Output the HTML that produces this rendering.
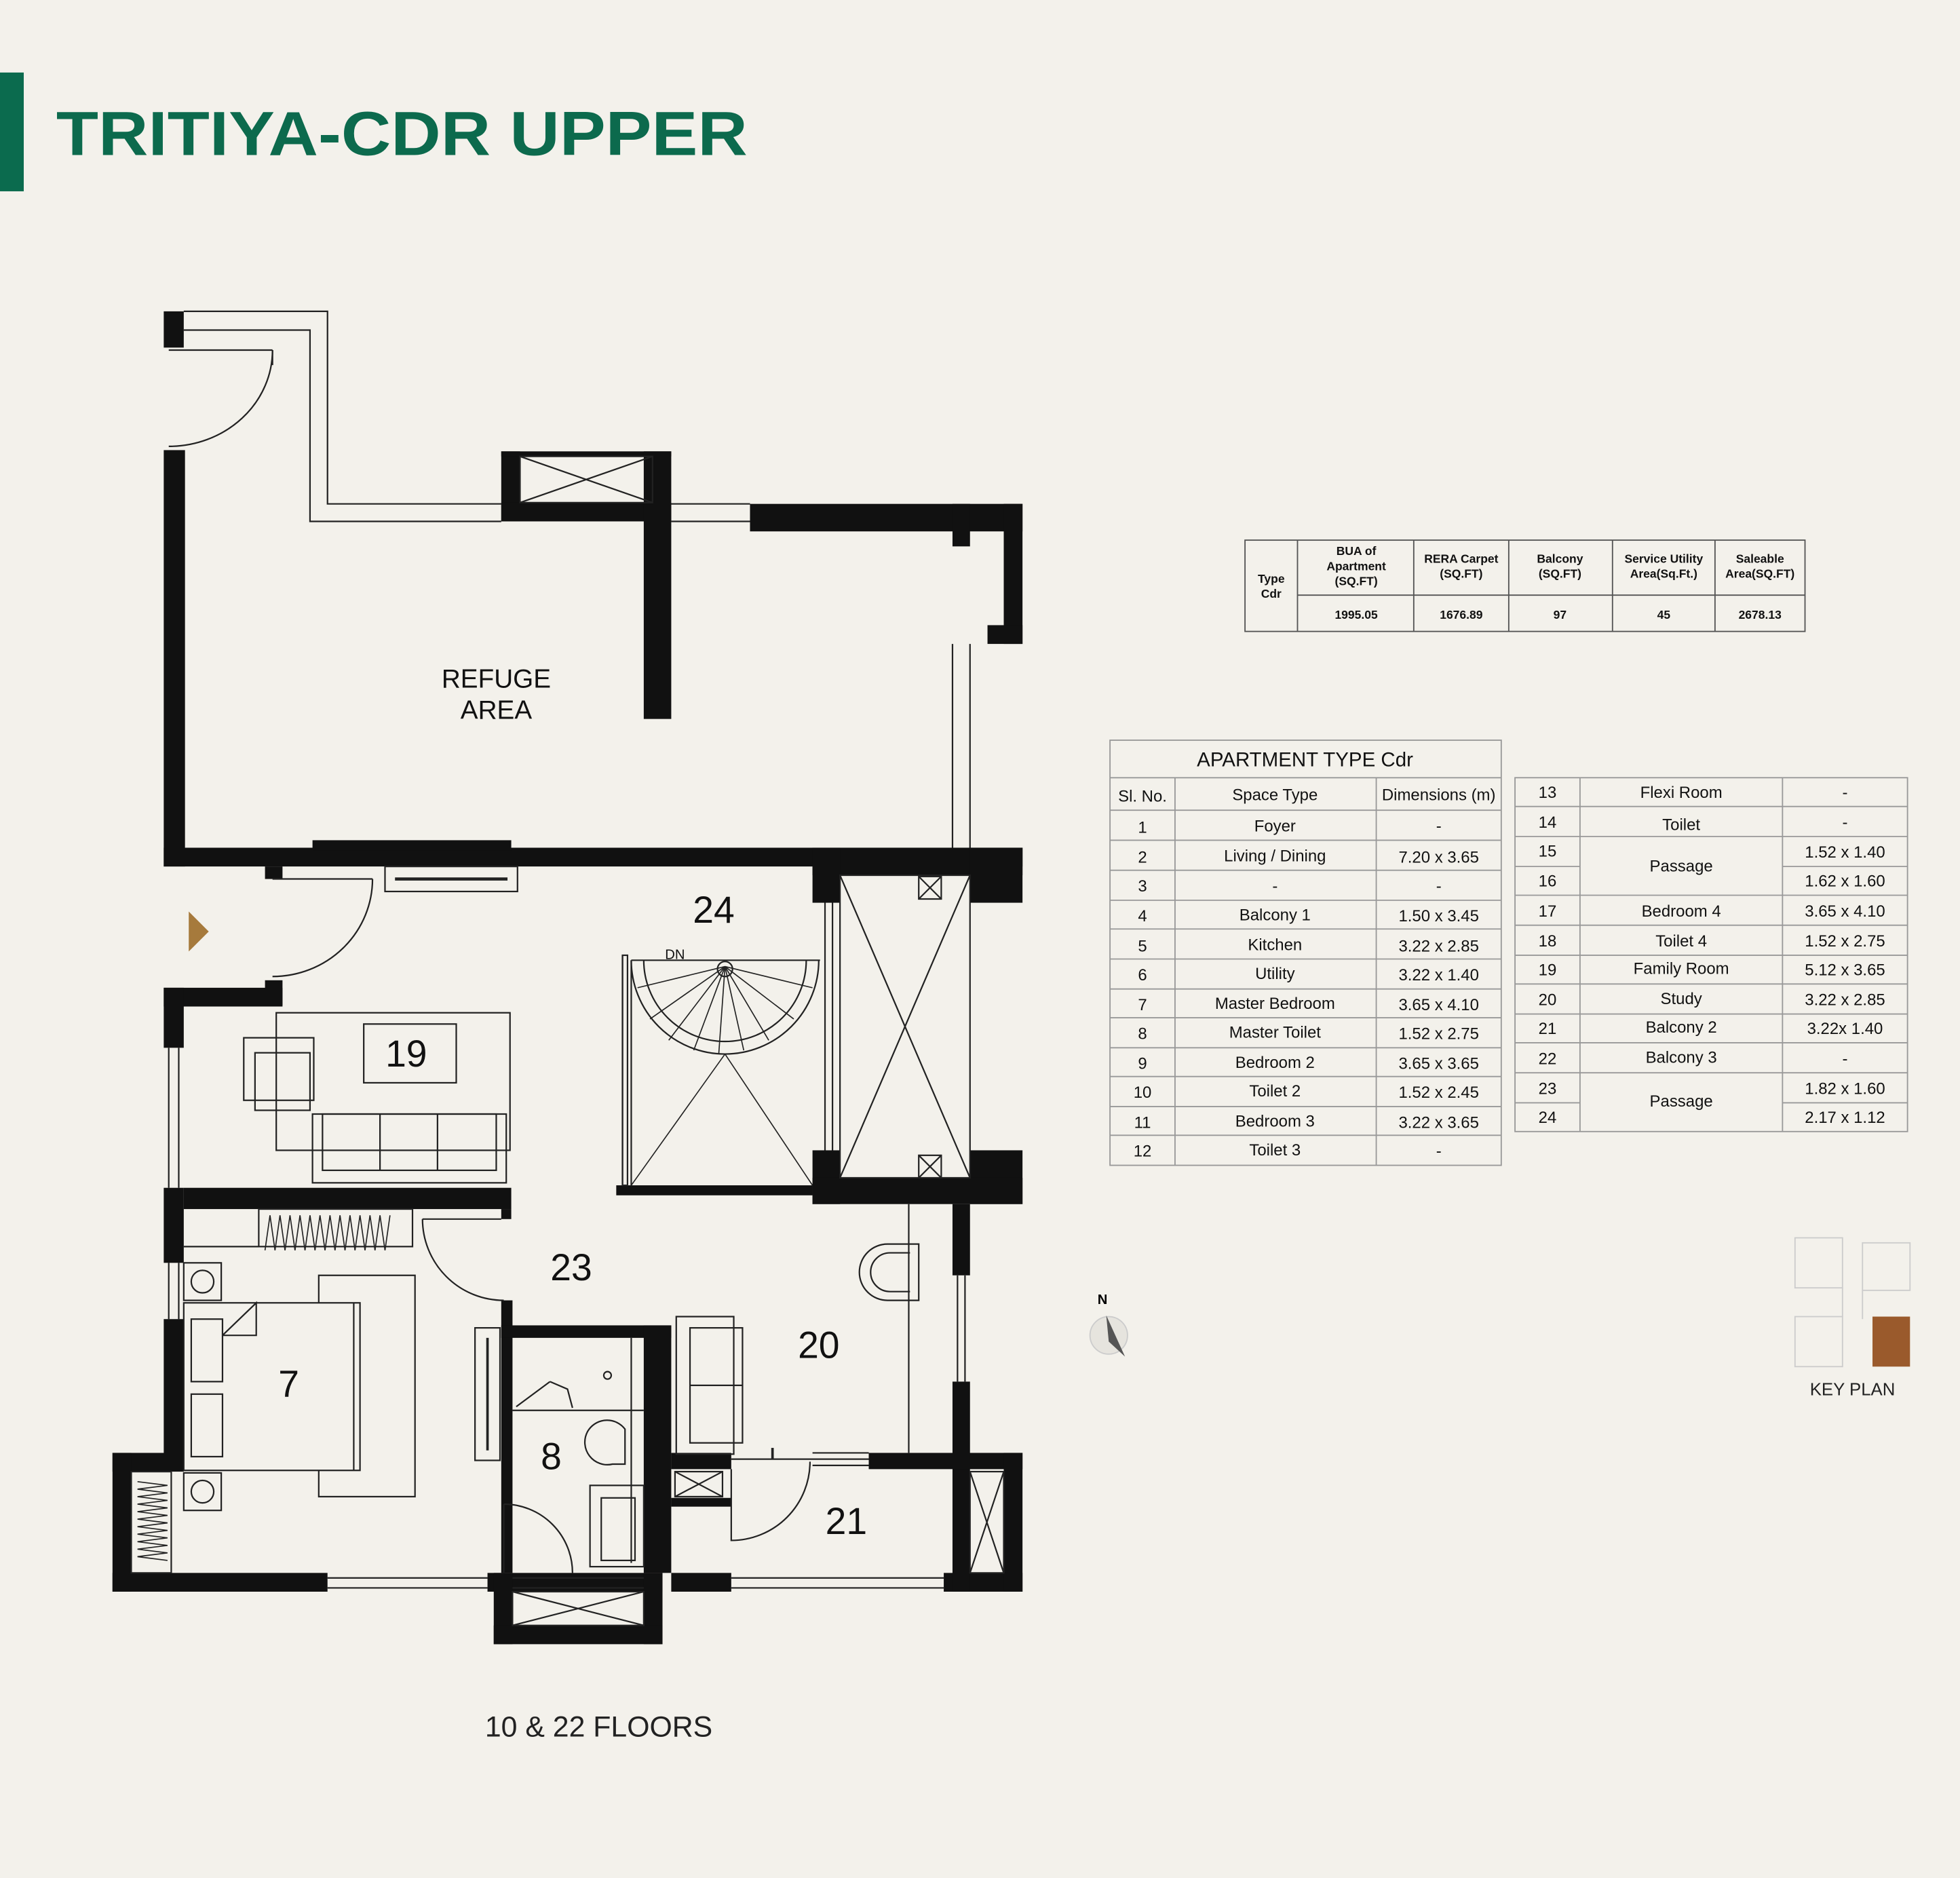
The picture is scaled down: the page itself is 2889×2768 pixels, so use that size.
<!DOCTYPE html>
<html><head><meta charset="utf-8"><style>
html,body{margin:0;padding:0;background:#f3f1eb;}
svg{display:block;}
text{font-family:"Liberation Sans",Arial,sans-serif;}
</style></head><body>
<svg width="2889" height="2768" viewBox="0 0 1568 1502" preserveAspectRatio="none" xmlns="http://www.w3.org/2000/svg">
<rect x="0" y="0" width="1568" height="1502" fill="#f3f1eb"/>
<rect x="0" y="58" width="19" height="95" fill="#0b6b4e"/>
<text x="45" y="124" font-size="50" font-weight="bold" fill="#0c6a4d" textLength="553" lengthAdjust="spacingAndGlyphs">TRITIYA-CDR UPPER</text>

<g fill="#111">
<rect x="131" y="249" width="16" height="29"/>
<rect x="131" y="360" width="17" height="333"/>
<rect x="131" y="678" width="687" height="15"/>
<rect x="250" y="672" width="159" height="8"/>
<rect x="401" y="361" width="15" height="56"/>
<rect x="401" y="361" width="136" height="4"/>
<rect x="401" y="402" width="136" height="15"/>
<rect x="515" y="361" width="22" height="214"/>
<rect x="600" y="403" width="218" height="22"/>
<rect x="762" y="403" width="14" height="34"/>
<rect x="803" y="403" width="15" height="112"/>
<rect x="790" y="500" width="28" height="15"/>
<rect x="650" y="678" width="168" height="22"/>
<rect x="650" y="678" width="22" height="44"/>
<rect x="776" y="678" width="42" height="44"/>
<rect x="650" y="920" width="22" height="43"/>
<rect x="776" y="920" width="42" height="43"/>
<rect x="650" y="942" width="168" height="21"/>
<rect x="493" y="948" width="157" height="8"/>
<rect x="212" y="693" width="14" height="10"/>
<rect x="131" y="790" width="95" height="15"/>
<rect x="212" y="784" width="14" height="20"/>
<rect x="131" y="790" width="16" height="48"/>
<rect x="131" y="950" width="16" height="60"/>
<rect x="131" y="1055" width="16" height="120"/>
<rect x="147" y="950" width="262" height="17"/>
<rect x="401" y="967" width="8" height="8"/>
<rect x="90" y="1162" width="57" height="15"/>
<rect x="90" y="1162" width="15" height="111"/>
<rect x="90" y="1258" width="172" height="15"/>
<rect x="390" y="1258" width="140" height="15"/>
<rect x="395" y="1258" width="15" height="57"/>
<rect x="515" y="1258" width="15" height="57"/>
<rect x="395" y="1300" width="135" height="15"/>
<rect x="401" y="1040" width="9" height="218"/>
<rect x="401" y="1060" width="136" height="10"/>
<rect x="515" y="1060" width="22" height="198"/>
<rect x="537" y="1162" width="48" height="13"/>
<rect x="537" y="1198" width="48" height="7"/>
<rect x="537" y="1258" width="48" height="15"/>
<rect x="755" y="1258" width="63" height="15"/>
<rect x="762" y="963" width="14" height="57"/>
<rect x="762" y="1105" width="14" height="168"/>
<rect x="695" y="1162" width="123" height="13"/>
<rect x="803" y="1162" width="15" height="111"/>
</g>

<g fill="none" stroke="#222" stroke-width="1.2">
<polyline points="147,249 262,249 262,403 401,403"/>
<polyline points="147,264 248,264 248,417 401,417"/>
<line x1="537" y1="403" x2="600" y2="403"/><line x1="537" y1="417" x2="600" y2="417"/>
<line x1="762" y1="515" x2="762" y2="678"/><line x1="776" y1="515" x2="776" y2="678"/>
<rect x="416" y="365" width="106" height="37"/>
<line x1="416" y1="365" x2="522" y2="402"/><line x1="522" y1="365" x2="416" y2="402"/>
<path d="M218,280 A83,77 0 0 1 135,357"/>
<line x1="135" y1="280" x2="218" y2="280"/>
<line x1="218" y1="280" x2="218" y2="292"/>
<path d="M298,703 A80,78 0 0 1 218,781"/>
<line x1="218" y1="703" x2="298" y2="703"/>
<rect x="308" y="693" width="106" height="20"/>
<line x1="316" y1="703" x2="406" y2="703" stroke-width="2.5"/>
<line x1="135" y1="838" x2="135" y2="950"/><line x1="143" y1="838" x2="143" y2="950"/>
<line x1="135" y1="1010" x2="135" y2="1055"/><line x1="143" y1="1010" x2="143" y2="1055"/>
<line x1="262" y1="1262" x2="390" y2="1262"/><line x1="262" y1="1270" x2="390" y2="1270"/>
<line x1="585" y1="1262" x2="755" y2="1262"/><line x1="585" y1="1270" x2="755" y2="1270"/>
<line x1="766" y1="1020" x2="766" y2="1105"/><line x1="772" y1="1020" x2="772" y2="1105"/>
<line x1="410" y1="1262" x2="515" y2="1262"/><line x1="410" y1="1270" x2="515" y2="1270"/>
<rect x="410" y="1273" width="105" height="27"/>
<line x1="410" y1="1273" x2="515" y2="1300"/><line x1="515" y1="1273" x2="410" y2="1300"/>
<rect x="221" y="810" width="187" height="110"/>
<rect x="291" y="819" width="74" height="47"/>
<rect x="195" y="830" width="56" height="50"/>
<rect x="204" y="842" width="44" height="46"/>
<rect x="250" y="891" width="155" height="55"/>
<rect x="258" y="891" width="139" height="45"/>
<line x1="304" y1="891" x2="304" y2="936"/><line x1="350" y1="891" x2="350" y2="936"/>
<line x1="498" y1="764" x2="498" y2="948"/>
<line x1="505" y1="768" x2="505" y2="948"/>
<line x1="505" y1="768" x2="656" y2="768"/>
<rect x="498" y="764" width="4" height="184"/>
<path d="M505,768 A75,75 0 0 0 655,768"/>
<path d="M515,768 A65,65 0 0 0 645,768"/>
<g stroke-width="0.9">
<line x1="580" y1="773" x2="510" y2="790"/><line x1="580" y1="773" x2="520" y2="815"/>
<line x1="580" y1="773" x2="535" y2="832"/><line x1="580" y1="773" x2="555" y2="840"/>
<line x1="580" y1="773" x2="575" y2="843"/><line x1="580" y1="773" x2="595" y2="840"/>
<line x1="580" y1="773" x2="615" y2="832"/><line x1="580" y1="773" x2="635" y2="815"/>
<line x1="580" y1="773" x2="650" y2="790"/>
<line x1="580" y1="843" x2="505" y2="948"/><line x1="580" y1="843" x2="650" y2="948"/>
</g>
<circle cx="580" cy="775" r="6"/>
<line x1="660" y1="722" x2="660" y2="920"/><line x1="666" y1="722" x2="666" y2="920"/>
<rect x="672" y="700" width="104" height="242"/>
<line x1="672" y1="942" x2="776" y2="700"/><line x1="776" y1="942" x2="672" y2="700"/>
<rect x="735" y="701" width="18" height="18" fill="#f3f1eb"/>
<line x1="735" y1="701" x2="753" y2="719"/><line x1="753" y1="701" x2="735" y2="719"/>
<rect x="735" y="924" width="18" height="18" fill="#f3f1eb"/>
<line x1="735" y1="924" x2="753" y2="942"/><line x1="753" y1="924" x2="735" y2="942"/>
<rect x="207" y="967" width="123" height="30"/>
<path d="M212,1000 l4,-28 4,28 4,-28 4,28 4,-28 4,28 4,-28 4,28 4,-28 4,28 4,-28 4,28 4,-28 4,28 4,-28 4,28 4,-28 4,28 4,-28 4,28 4,-28 4,28 4,-28 4,28 4,-28" stroke-width="0.9"/>
<line x1="147" y1="997" x2="207" y2="997"/>
<rect x="147" y="1010" width="30" height="30"/>
<circle cx="162" cy="1025" r="9"/>
<rect x="147" y="1178" width="30" height="30"/>
<circle cx="162" cy="1193" r="9"/>
<rect x="255" y="1020" width="77" height="177"/>
<rect x="147" y="1042" width="141" height="134" fill="#f3f1eb"/>
<line x1="283" y1="1042" x2="283" y2="1176"/>
<rect x="153" y="1055" width="25" height="50"/>
<rect x="153" y="1115" width="25" height="50"/>
<polyline points="178,1068 205,1042 205,1068 178,1068"/>
<rect x="105" y="1177" width="32" height="81"/>
<path d="M110,1185 l24,3 -24,3 24,3 -24,3 24,3 -24,3 24,3 -24,3 24,3 -24,3 24,3 -24,3 24,3 -24,3 24,3 -24,3 24,3 -24,3 24,3 -24,3 24,3" stroke-width="0.9"/>
<path d="M338,975 A65,65 0 0 0 403,1040"/>
<line x1="338" y1="975" x2="401" y2="975"/>
<rect x="380" y="1062" width="20" height="106"/>
<line x1="390" y1="1070" x2="390" y2="1160" stroke-width="2"/>
<line x1="410" y1="1128" x2="515" y2="1128"/>
<line x1="505" y1="1070" x2="505" y2="1250"/>
<path d="M470,1145 a18,18 0 0 1 30,-2 v28 h-10 a18,18 0 0 1 -20,-26z"/>
<rect x="472" y="1188" width="43" height="65"/>
<rect x="481" y="1198" width="27" height="50"/>
<line x1="413" y1="1125" x2="440" y2="1105"/><path d="M440,1105 l14,6 4,15"/>
<path d="M403,1203 A55,55 0 0 1 458,1258"/>
<line x1="403" y1="1203" x2="403" y2="1258"/>
<circle cx="486" cy="1100" r="3"/>
<rect x="541" y="1053" width="46" height="110"/>
<rect x="552" y="1062" width="42" height="92"/>
<line x1="552" y1="1108" x2="594" y2="1108"/>
<line x1="727" y1="963" x2="727" y2="1162"/>
<path d="M735,995 h-25 a20,20 0 0 0 0,45 h25 z"/>
<path d="M728,1002 h-16 a14,14 0 0 0 0,31 h16"/>
<path d="M585,1175 V1232 A63,63 0 0 0 648,1169"/>
<line x1="585" y1="1167" x2="695" y2="1167"/>
<line x1="650" y1="1162" x2="695" y2="1162"/><line x1="650" y1="1172" x2="695" y2="1172"/>
<line x1="618" y1="1158" x2="618" y2="1167" stroke-width="2"/>
<rect x="540" y="1177" width="38" height="20"/>
<line x1="540" y1="1177" x2="578" y2="1197"/><line x1="578" y1="1177" x2="540" y2="1197"/>
<rect x="776" y="1177" width="27" height="81"/>
<line x1="776" y1="1177" x2="803" y2="1258"/><line x1="803" y1="1177" x2="776" y2="1258"/>
</g>
<polygon points="151,729 167,745 151,761" fill="#a67a3c"/>

<g font-size="21" fill="#111" text-anchor="middle">
<text x="397" y="550">REFUGE</text><text x="397" y="575">AREA</text>
</g>
<g font-size="30" fill="#111" text-anchor="middle">
<text x="571" y="738">24</text><text x="325" y="853">19</text><text x="457" y="1024">23</text>
<text x="655" y="1086">20</text><text x="231" y="1117">7</text><text x="441" y="1175">8</text>
<text x="677" y="1227">21</text>
</g>
<text x="540" y="767" font-size="11" text-anchor="middle" fill="#111">DN</text>
<text x="479" y="1389" font-size="23" text-anchor="middle" fill="#222" textLength="182" lengthAdjust="spacingAndGlyphs">10 &amp; 22 FLOORS</text>

<text x="882" y="1043" font-size="11" font-weight="bold" text-anchor="middle">N</text>
<circle cx="887" cy="1068" r="15" fill="#e6e4de" stroke="#ccc"/>
<polygon points="885,1052 900,1085 887,1073" fill="#555"/>

<g fill="none" stroke="#ccc" stroke-width="1">
<rect x="1436" y="990" width="38" height="40"/>
<rect x="1490" y="994" width="38" height="38"/>
<rect x="1436" y="1053" width="38" height="40"/>
<line x1="1474" y1="1030" x2="1474" y2="1053"/>
<line x1="1490" y1="1032" x2="1490" y2="1055"/>
</g>
<rect x="1498" y="1053" width="30" height="40" fill="#9a5a2c"/>
<text x="1482" y="1116" font-size="14" text-anchor="middle" fill="#222">KEY PLAN</text>

<g fill="none" stroke="#555" stroke-width="1">
<rect x="996" y="432" width="448" height="73"/>
<line x1="1038" y1="476" x2="1444" y2="476"/>
<line x1="1038" y1="432" x2="1038" y2="505"/><line x1="1131" y1="432" x2="1131" y2="505"/>
<line x1="1207" y1="432" x2="1207" y2="505"/><line x1="1290" y1="432" x2="1290" y2="505"/>
<line x1="1372" y1="432" x2="1372" y2="505"/>
</g>
<g font-size="9.5" font-weight="bold" text-anchor="middle" fill="#111">
<text x="1017" y="466">Type</text><text x="1017" y="478">Cdr</text>
<text x="1085" y="444">BUA of</text><text x="1085" y="456">Apartment</text><text x="1085" y="468">(SQ.FT)</text>
<text x="1169" y="450">RERA Carpet</text><text x="1169" y="462">(SQ.FT)</text>
<text x="1248" y="450">Balcony</text><text x="1248" y="462">(SQ.FT)</text>
<text x="1331" y="450">Service Utility</text><text x="1331" y="462">Area(Sq.Ft.)</text>
<text x="1408" y="450">Saleable</text><text x="1408" y="462">Area(SQ.FT)</text>
<text x="1085" y="495">1995.05</text><text x="1169" y="495">1676.89</text><text x="1248" y="495">97</text>
<text x="1331" y="495">45</text><text x="1408" y="495">2678.13</text>
</g>

<g fill="none" stroke="#999" stroke-width="1">
<rect x="888" y="592" width="313" height="340"/>
<line x1="888" y1="622" x2="1201" y2="622"/>
<line x1="940" y1="622" x2="940" y2="932"/><line x1="1101" y1="622" x2="1101" y2="932"/>
<line x1="888" y1="648" x2="1201" y2="648"/><line x1="888" y1="672" x2="1201" y2="672"/>
<line x1="888" y1="696" x2="1201" y2="696"/><line x1="888" y1="720" x2="1201" y2="720"/>
<line x1="888" y1="743" x2="1201" y2="743"/><line x1="888" y1="767" x2="1201" y2="767"/>
<line x1="888" y1="791" x2="1201" y2="791"/><line x1="888" y1="814" x2="1201" y2="814"/>
<line x1="888" y1="838" x2="1201" y2="838"/><line x1="888" y1="861" x2="1201" y2="861"/>
<line x1="888" y1="885" x2="1201" y2="885"/><line x1="888" y1="908" x2="1201" y2="908"/>
</g>
<g font-size="13" text-anchor="middle" fill="#111">
<text x="1044" y="613" font-size="16">APARTMENT TYPE Cdr</text>
<text x="914" y="641">Sl. No.</text><text x="1020" y="640">Space Type</text><text x="1151" y="640">Dimensions (m)</text>
<text x="914" y="666">1</text><text x="1020" y="665">Foyer</text><text x="1151" y="665">-</text>
<text x="914" y="690">2</text><text x="1020" y="689">Living / Dining</text><text x="1151" y="690">7.20 x 3.65</text>
<text x="914" y="713">3</text><text x="1020" y="713">-</text><text x="1151" y="713">-</text>
<text x="914" y="737">4</text><text x="1020" y="736">Balcony 1</text><text x="1151" y="737">1.50 x 3.45</text>
<text x="914" y="761">5</text><text x="1020" y="760">Kitchen</text><text x="1151" y="761">3.22 x 2.85</text>
<text x="914" y="784">6</text><text x="1020" y="783">Utility</text><text x="1151" y="784">3.22 x 1.40</text>
<text x="914" y="808">7</text><text x="1020" y="807">Master Bedroom</text><text x="1151" y="808">3.65 x 4.10</text>
<text x="914" y="831">8</text><text x="1020" y="830">Master Toilet</text><text x="1151" y="831">1.52 x 2.75</text>
<text x="914" y="855">9</text><text x="1020" y="854">Bedroom 2</text><text x="1151" y="855">3.65 x 3.65</text>
<text x="914" y="878">10</text><text x="1020" y="877">Toilet 2</text><text x="1151" y="878">1.52 x 2.45</text>
<text x="914" y="902">11</text><text x="1020" y="901">Bedroom 3</text><text x="1151" y="902">3.22 x 3.65</text>
<text x="914" y="925">12</text><text x="1020" y="924">Toilet 3</text><text x="1151" y="925">-</text>
</g>

<g fill="none" stroke="#999" stroke-width="1">
<rect x="1212" y="622" width="314" height="283"/>
<line x1="1264" y1="622" x2="1264" y2="905"/><line x1="1426" y1="622" x2="1426" y2="905"/>
<line x1="1212" y1="645" x2="1526" y2="645"/><line x1="1212" y1="669" x2="1526" y2="669"/>
<line x1="1212" y1="693" x2="1264" y2="693"/><line x1="1426" y1="693" x2="1526" y2="693"/>
<line x1="1212" y1="716" x2="1526" y2="716"/><line x1="1212" y1="740" x2="1526" y2="740"/>
<line x1="1212" y1="764" x2="1526" y2="764"/><line x1="1212" y1="787" x2="1526" y2="787"/>
<line x1="1212" y1="811" x2="1526" y2="811"/><line x1="1212" y1="834" x2="1526" y2="834"/>
<line x1="1212" y1="858" x2="1526" y2="858"/>
<line x1="1212" y1="882" x2="1264" y2="882"/><line x1="1426" y1="882" x2="1526" y2="882"/>
</g>
<g font-size="13" text-anchor="middle" fill="#111">
<text x="1238" y="638">13</text><text x="1345" y="638">Flexi Room</text><text x="1476" y="638">-</text>
<text x="1238" y="662">14</text><text x="1345" y="664">Toilet</text><text x="1476" y="662">-</text>
<text x="1238" y="685">15</text><text x="1345" y="697">Passage</text><text x="1476" y="686">1.52 x 1.40</text>
<text x="1238" y="709">16</text><text x="1476" y="709">1.62 x 1.60</text>
<text x="1238" y="733">17</text><text x="1345" y="733">Bedroom 4</text><text x="1476" y="733">3.65 x 4.10</text>
<text x="1238" y="757">18</text><text x="1345" y="757">Toilet 4</text><text x="1476" y="757">1.52 x 2.75</text>
<text x="1238" y="780">19</text><text x="1345" y="779">Family Room</text><text x="1476" y="780">5.12 x 3.65</text>
<text x="1238" y="804">20</text><text x="1345" y="803">Study</text><text x="1476" y="804">3.22 x 2.85</text>
<text x="1238" y="827">21</text><text x="1345" y="826">Balcony 2</text><text x="1476" y="827">3.22x 1.40</text>
<text x="1238" y="851">22</text><text x="1345" y="850">Balcony 3</text><text x="1476" y="851">-</text>
<text x="1238" y="875">23</text><text x="1345" y="885">Passage</text><text x="1476" y="875">1.82 x 1.60</text>
<text x="1238" y="898">24</text><text x="1476" y="898">2.17 x 1.12</text>
</g>
</svg>
</body></html>
